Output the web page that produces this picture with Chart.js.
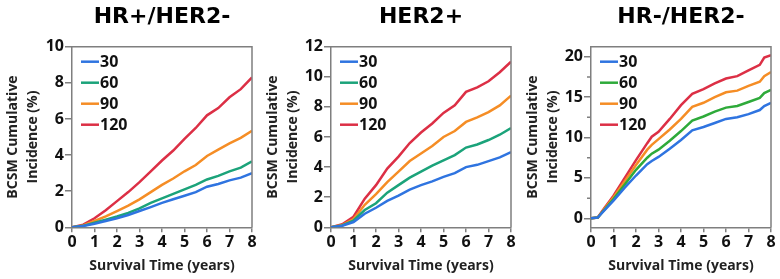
<!DOCTYPE html>
<html><head><meta charset="utf-8">
<script src="https://cdn.jsdelivr.net/npm/chart.js@4/dist/chart.umd.min.js"></script>
<style>
html,body{margin:0;padding:0;background:#fff;overflow:hidden;}
.wrap{position:absolute;top:0;width:260px;height:279px;}
canvas{display:block;}
</style></head><body>
<div class="wrap" style="left:0"><canvas id="c1" width="260" height="279"></canvas></div>
<div class="wrap" style="left:260px"><canvas id="c2" width="260" height="279"></canvas></div>
<div class="wrap" style="left:520px"><canvas id="c3" width="260" height="279"></canvas></div>
<script>
// ---- data ----
const seriesLabels = ['30', '60', '90', '120'];
const panelTitles = ['HR+/HER2-', 'HER2+', 'HR-/HER2-'];
const xTitle = 'Survival Time (years)';
const yTitle = ['BCSM Cumulative', 'Incidence (%)'];

const years = [0,0.5,1,1.5,2,2.5,3,3.5,4,4.5,5,5.5,6,6.5,7,7.5,8];
const hrPos30  = [0,0.07,0.2,0.35,0.5,0.68,0.9,1.12,1.35,1.55,1.75,1.95,2.25,2.4,2.6,2.75,3.0];
const hrPos60  = [0,0.08,0.25,0.42,0.6,0.8,1.05,1.35,1.6,1.85,2.1,2.35,2.65,2.85,3.1,3.3,3.65];
const hrPos90  = [0,0.1,0.35,0.6,0.9,1.2,1.55,1.95,2.35,2.7,3.1,3.45,3.95,4.3,4.65,4.95,5.35];
const hrPos120 = [0,0.15,0.5,0.95,1.45,1.95,2.5,3.1,3.7,4.25,4.9,5.5,6.2,6.6,7.2,7.65,8.3];

const her2_30  = [0,0.1,0.35,0.9,1.3,1.75,2.1,2.5,2.8,3.05,3.35,3.6,4.0,4.15,4.4,4.65,5.0];
const her2_60  = [0,0.12,0.45,1.15,1.6,2.3,2.8,3.3,3.7,4.1,4.45,4.8,5.3,5.5,5.8,6.15,6.6];
const her2_90  = [0,0.15,0.55,1.5,2.2,3.0,3.7,4.4,4.9,5.4,6.0,6.4,7.0,7.3,7.65,8.1,8.75];
const her2_120 = [0,0.2,0.7,1.9,2.8,3.9,4.7,5.6,6.3,6.9,7.6,8.1,9.0,9.3,9.7,10.3,11.0];

const years3 = [0,0.3,0.5,1,1.5,2,2.5,2.7,3,3.5,4,4.5,5,5.5,6,6.5,7,7.5,7.7,8];
const tn30  = [0,0.1,0.7,2.2,3.8,5.3,6.7,7.1,7.6,8.6,9.7,10.9,11.3,11.8,12.3,12.5,12.9,13.4,13.9,14.3];
const tn60  = [0,0.1,0.75,2.4,4.2,6.0,7.5,8.0,8.5,9.6,10.8,12.1,12.6,13.2,13.7,13.9,14.4,14.9,15.5,15.9];
const tn90  = [0,0.1,0.8,2.6,4.6,6.6,8.5,9.1,9.8,11.0,12.3,13.8,14.3,15.0,15.6,15.8,16.4,16.9,17.6,18.1];
const tn120 = [0,0.1,0.9,2.8,5.0,7.2,9.3,10.1,10.7,12.3,14.0,15.4,16.0,16.7,17.3,17.6,18.3,19.0,19.9,20.2];

const minorTicks3 = [2.5, 7.5, 12.5, 17.5];

// ---- styles ----
const colorsA = ['#2f74e0', '#1ba37a', '#f58d25', '#dc2f45'];
const colorsB = ['#2f74e0', '#2eaa3a', '#f58d25', '#dc2f45'];
const FONT = '"Open Sans", sans-serif';
const AX = '#7f7f7f';

const framePlugin = {
  id: 'frameLegend',
  afterDatasetsDraw(chart, args, opts) {
    const {ctx, chartArea: {left, top, right, bottom}} = chart;
    ctx.save();
    ctx.strokeStyle = AX; ctx.lineWidth = 1.5;
    ctx.beginPath();
    ctx.moveTo(left, top); ctx.lineTo(right, top); ctx.lineTo(right, bottom);
    if (opts.minor) {
      const ys = chart.scales.y;
      opts.minor.forEach(v => { const p = ys.getPixelForValue(v); ctx.moveTo(left - 4, p); ctx.lineTo(left, p); });
    }
    ctx.stroke();
    ctx.font = 'bold 16px ' + FONT;
    ctx.textBaseline = 'middle';
    ctx.textAlign = 'left';
    chart.data.datasets.forEach((ds, i) => {
      const y = top + 15 + i * 21;
      ctx.strokeStyle = ds.borderColor; ctx.lineWidth = 2.5;
      ctx.beginPath(); ctx.moveTo(left + 9, y); ctx.lineTo(left + 27, y); ctx.stroke();
      ctx.fillStyle = '#111';
      ctx.fillText(ds.label, left + 28, y + 1);
    });
    ctx.restore();
  }
};

function makeChart(id, title, xs, series, colors, yMin, yMax, yStep, yWidth, rightPad, minor) {
  const datasets = series.map((vals, i) => ({
    label: seriesLabels[i],
    data: xs.map((x, j) => ({x: x, y: vals[j]})),
    borderColor: colors[i],
    backgroundColor: colors[i],
    borderWidth: 2.5,
    pointRadius: 0,
    tension: 0,
    fill: false
  }));
  return new Chart(document.getElementById(id), {
    type: 'line',
    data: {datasets},
    options: {
      responsive: false,
      animation: false,
      devicePixelRatio: 1,
      layout: {padding: {left: 0, right: rightPad, top: 0, bottom: 0}},
      plugins: {
        legend: {display: false},
        tooltip: {enabled: false},
        title: {
          display: true, text: title, fullSize: false, color: '#000',
          font: {family: '"DejaVu Sans", sans-serif', size: 22, weight: 'bold'},
          padding: {top: 4.5, bottom: 15.8}
        },
        frameLegend: {minor: minor}
      },
      scales: {
        x: {
          type: 'linear', min: 0, max: 8,
          ticks: {stepSize: 1, color: '#111', font: {family: FONT, size: 16, weight: 'bold'}, padding: 1, maxRotation: 0},
          grid: {display: true, drawOnChartArea: false, drawTicks: true, tickLength: 5, color: AX, lineWidth: 1.5},
          border: {color: AX, width: 1.5},
          title: {display: true, text: xTitle, color: '#222', font: {family: FONT, size: 14, weight: 'bold'}, padding: {top: 0, bottom: 4.6}},
          afterFit: s => { s.height = 51.7; }
        },
        y: {
          type: 'linear', min: yMin, max: yMax,
          ticks: {stepSize: yStep, includeBounds: false, color: '#111', font: {family: FONT, size: 16, weight: 'bold'}, padding: 1},
          grid: {display: true, drawOnChartArea: false, drawTicks: true, tickLength: 7, color: AX, lineWidth: 1.5},
          border: {color: AX, width: 1.5},
          title: {display: true, text: yTitle, color: '#222', font: {family: FONT, size: 14, weight: 'bold', lineHeight: 1.45}, padding: {top: 3, bottom: 0}},
          afterFit: s => { s.width = yWidth; }
        }
      }
    },
    plugins: [framePlugin]
  });
}

makeChart('c1', panelTitles[0], years, [hrPos30, hrPos60, hrPos90, hrPos120], colorsA, 0, 10, 2, 72, 8, null);
makeChart('c2', panelTitles[1], years, [her2_30, her2_60, her2_90, her2_120], colorsA, 0, 12, 2, 71, 9, null);
makeChart('c3', panelTitles[2], years3, [tn30, tn60, tn90, tn120], colorsB, -1.11, 21.24, 5, 71, 9, minorTicks3);
</script>
</body></html>
